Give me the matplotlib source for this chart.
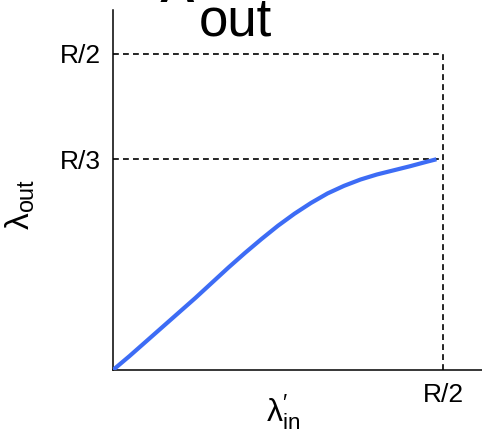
import numpy as np
import matplotlib
matplotlib.use("Agg")
import matplotlib.pyplot as plt

plt.rcParams['font.family'] = ['Liberation Sans', 'DejaVu Sans']

# schematic throughput curve, R = 1
R = 1.0
lam_in = [0.0, 0.025, 0.05, 0.075, 0.10, 0.125, 0.15, 0.175, 0.20, 0.225,
          0.25, 0.275, 0.30, 0.325, 0.35, 0.375, 0.40, 0.425, 0.45, 0.475, 0.49]
lam_out = [0.0, 0.022, 0.045, 0.068, 0.091, 0.114, 0.138, 0.162, 0.185, 0.207,
           0.228, 0.247, 0.264, 0.279, 0.291, 0.301, 0.309, 0.3155, 0.322, 0.329, 0.333]

x_ticks = [R / 2]
x_tick_labels = ['R/2']
y_ticks = [R / 3, R / 2]
y_tick_labels = ['R/3', 'R/2']

fig = plt.figure(figsize=(4.82, 4.30), dpi=100)
ax = fig.add_axes([113 / 482, 60 / 430, 369 / 482, 360 / 430])

ax.plot(lam_in, lam_out, color='#3d6cf5', lw=3, solid_capstyle='butt',
        solid_joinstyle='round', zorder=3)

# dashed guide lines
dash = dict(color='black', lw=1.2, linestyle=(0, (3.5, 2.5)), zorder=2)
ax.plot([0, R / 2], [R / 2, R / 2], **dash)
ax.plot([0, R / 2], [R / 3, R / 3], **dash)
ax.plot([R / 2, R / 2], [0, R / 2], **dash)

ax.set_xlim(0, 369 / 660)
ax.set_ylim(0, 360 / 632.8)

for s in ['top', 'right']:
    ax.spines[s].set_visible(False)
for s in ['left', 'bottom']:
    ax.spines[s].set_linewidth(1.1)

ax.set_xticks(x_ticks)
ax.set_xticklabels(x_tick_labels)
ax.set_yticks(y_ticks)
ax.set_yticklabels(y_tick_labels)
ax.tick_params(length=0, labelsize=19)
ax.tick_params(axis='x', pad=9)
ax.tick_params(axis='y', pad=9)

ax.set_xlabel(r"$\mathregular{\lambda^{\prime}_{in}}$", fontsize=23)
ax.xaxis.set_label_coords(0.46, -0.062)
ax.set_ylabel(r"$\mathregular{\lambda_{out}}$", fontsize=24)
ax.yaxis.set_label_coords(-0.205, 0.46)

# big title, mostly cut off at the top
fig.text(160 / 482, 1 - 2 / 430, "λ", fontsize=50, ha='left', va='baseline')
fig.text(199 / 482, 1 - 35 / 430, "out", fontsize=38, ha='left', va='baseline')

fig.savefig("out.png", dpi=100)
